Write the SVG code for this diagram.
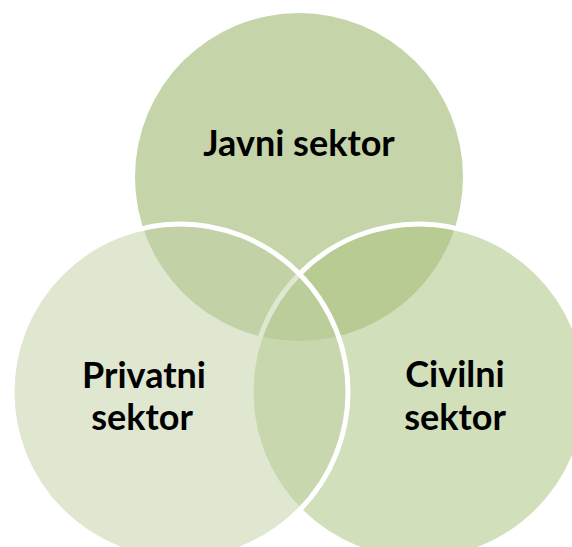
<svg xmlns="http://www.w3.org/2000/svg" width="572" height="547" viewBox="0 0 572 547">
  <style>
    .lbl { font-family: Lato, "Open Sans", "Liberation Sans", sans-serif; font-weight: bold; font-size: 36px; fill: #000000; text-anchor: middle; }
    .ring { fill: none; stroke: #FFFFFF; stroke-width: 5; }
  </style>
  <rect width="572" height="547" fill="#FFFFFF"/>
  <g id="node-javni">
    <circle cx="299" cy="177" r="164" fill="#C5D5A9"/>
    <text class="lbl" x="299" y="156">Javni sektor</text>
  </g>
  <g id="node-civilni">
    <circle cx="419" cy="392" r="168" fill="#AAC37F" fill-opacity="0.53"/>
    <circle class="ring" cx="419" cy="392" r="168"/>
    <text class="lbl" x="455" y="387">Civilni</text>
    <text class="lbl" x="455" y="430">sektor</text>
  </g>
  <g id="node-privatni">
    <circle cx="180" cy="392" r="168" fill="#BFCFA3" fill-opacity="0.5"/>
    <circle class="ring" cx="180" cy="392" r="168"/>
    <text class="lbl" x="144" y="388">Privatni</text>
    <text class="lbl" x="142" y="430">sektor</text>
  </g>
</svg>
